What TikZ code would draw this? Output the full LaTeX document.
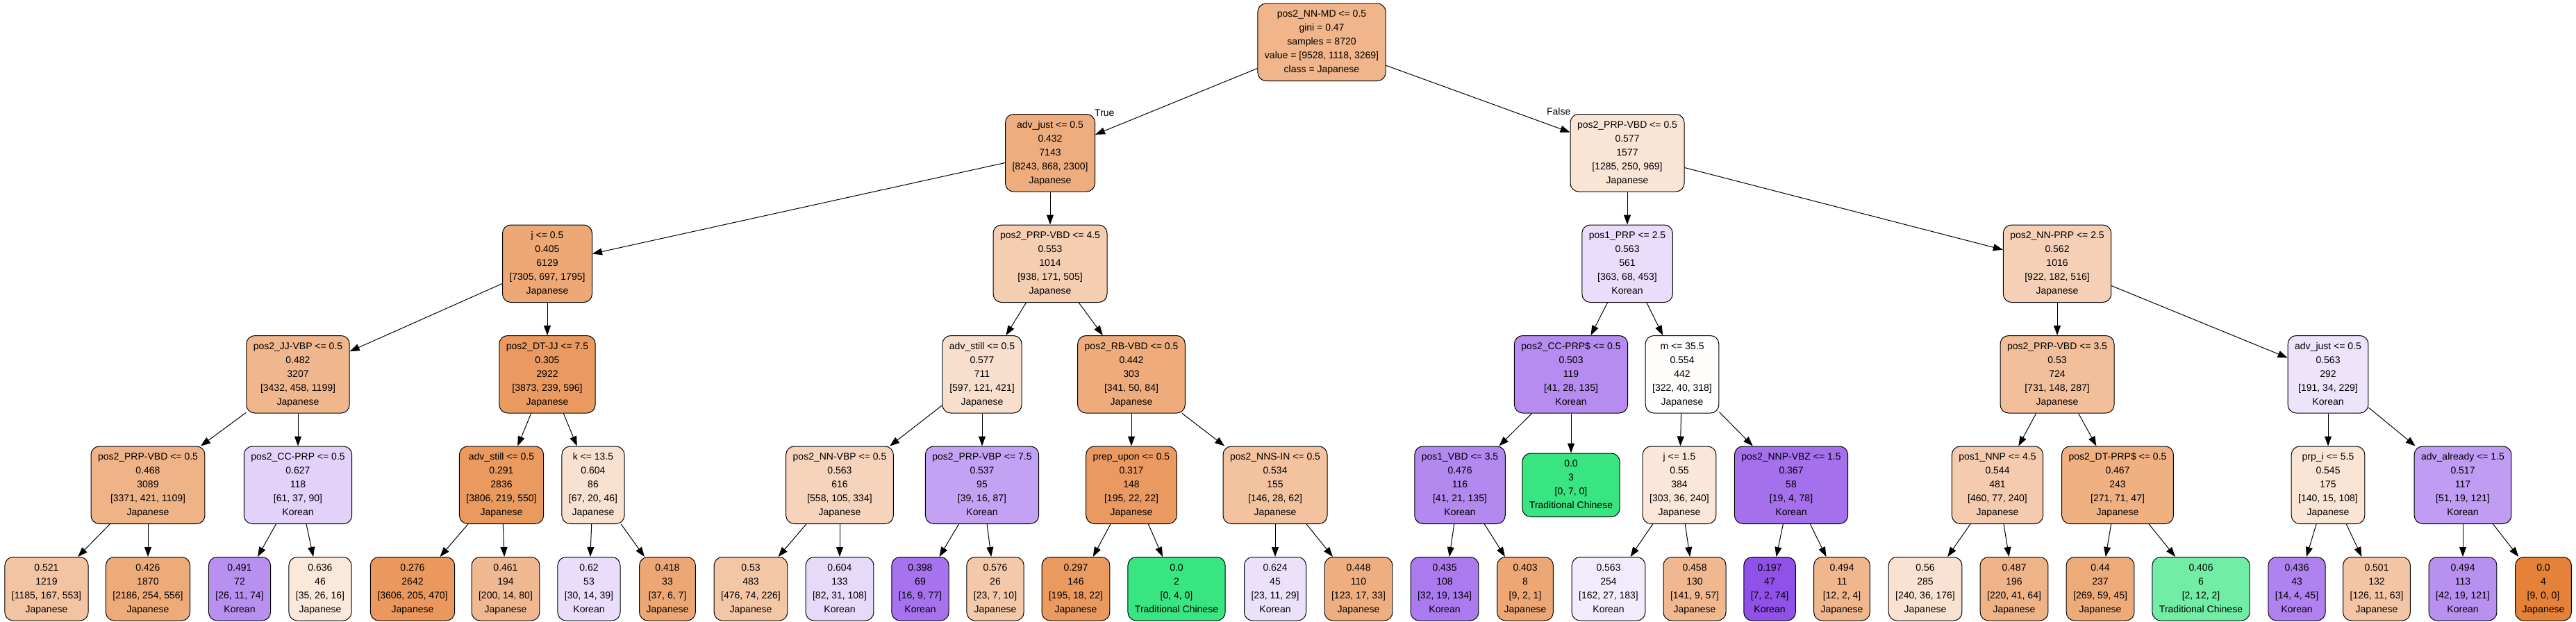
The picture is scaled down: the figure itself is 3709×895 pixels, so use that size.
\documentclass[tikz,border=0pt]{standalone}
\usepackage{fontspec}
\setmainfont{Liberation Sans}
\usepackage{tikz}
\usetikzlibrary{positioning,arrows.meta}
\definecolor{japc}{RGB}{229,129,57}
\definecolor{tradc}{RGB}{57,229,129}
\definecolor{korc}{RGB}{129,57,229}
\newcommand{\tsplit}[5]{\strut#1\\\strut#2\\\strut#3\\\strut#4\\\strut#5}
\newcommand{\tleaf}[4]{\strut#1\\\strut#2\\\strut#3\\\strut#4}
\tikzset{
  cell/.style={draw=black, line width=1pt, rounded corners=12pt, fill=white,
               inner xsep=10pt, inner ysep=5.75pt, align=center,
               font=\fontsize{14}{20}\selectfont},
  jap/.style={cell, fill=japc!#1!white},
  trad/.style={cell, fill=tradc!#1!white},
  kor/.style={cell, fill=korc!#1!white},
  ar/.style={-{Triangle[length=14pt,width=10pt]}, line width=1pt},
  lbl/.style={inner sep=0pt, font=\fontsize{14}{20}\selectfont},
}

\begin{document}
\begin{tikzpicture}
\useasboundingbox (0pt,0pt) rectangle (3709pt,-895pt);

% --- root ---
\node[jap=59] (root) at (1903pt,-60.75pt)
  {\tsplit{pos2\_NN-MD <= 0.5}{gini = 0.47}{samples = 8720}{value = [9528, 1118, 3269]}{class = Japanese}};
\node[jap=65] (L) [below=47pt of root, xshift=-391pt] {\tsplit{adv\_just <= 0.5}{0.432}{7143}{[8243, 868, 2300]}{Japanese}};
\node[jap=21] (R) [below=47pt of root, xshift=440pt]  {\tsplit{pos2\_PRP-VBD <= 0.5}{0.577}{1577}{[1285, 250, 969]}{Japanese}};
\draw[ar] (root) -- (L);
\draw[ar] (root) -- (R);
\node[lbl, anchor=base west] (true)  at ([xshift=-1pt,yshift=-3.5pt]L.north east) {True};
\node[lbl, anchor=base east] (false) at ([xshift=1pt,yshift=-1.5pt]R.north west)  {False};

% --- true branch: j ---
\node[jap=69] (LL) [below=47pt of L, xshift=-724pt] {\tsplit{j <= 0.5}{0.405}{6129}{[7305, 697, 1795]}{Japanese}};
\node[jap=57] (LLL) [below=47pt of LL, xshift=-359pt] {\tsplit{pos2\_JJ-VBP <= 0.5}{0.482}{3207}{[3432, 458, 1199]}{Japanese}};
\node[jap=80] (LLR) [below=47pt of LL] {\tsplit{pos2\_DT-JJ <= 7.5}{0.305}{2922}{[3873, 239, 596]}{Japanese}};
\node[jap=60] (LLLL) [below=47pt of LLL, xshift=-216pt] {\tsplit{pos2\_PRP-VBD <= 0.5}{0.468}{3089}{[3371, 421, 1109]}{Japanese}};
\node[kor=23] (LLLR) [below=47pt of LLL] {\tsplit{pos2\_CC-PRP <= 0.5}{0.627}{118}{[61, 37, 90]}{Korean}};
\node[jap=81] (LLRL) [below=47pt of LLR, xshift=-66pt] {\tsplit{adv\_still <= 0.5}{0.291}{2836}{[3806, 219, 550]}{Japanese}};
\node[jap=24] (LLRR) [below=47pt of LLR, xshift=66pt] {\tsplit{k <= 13.5}{0.604}{86}{[67, 20, 46]}{Japanese}};
\node[jap=47] (LLLLL) [below=47pt of LLLL, xshift=-146pt] {\tleaf{0.521}{1219}{[1185, 167, 553]}{Japanese}};
\node[jap=67] (LLLLR) [below=47pt of LLLL] {\tleaf{0.426}{1870}{[2186, 254, 556]}{Japanese}};
\node[kor=56] (LLLRL) [below=47pt of LLLR, xshift=-84pt] {\tleaf{0.491}{72}{[26, 11, 74]}{Korean}};
\node[jap=18] (LLLRR) [below=47pt of LLLR, xshift=32pt] {\tleaf{0.636}{46}{[35, 26, 16]}{Japanese}};
\node[jap=82] (LLRLL) [below=47pt of LLRL, xshift=-128pt] {\tleaf{0.276}{2642}{[3606, 205, 470]}{Japanese}};
\node[jap=56] (LLRLR) [below=47pt of LLRL, xshift=6pt] {\tleaf{0.461}{194}{[200, 14, 80]}{Japanese}};
\node[kor=17] (LLRRL) [below=47pt of LLRR, xshift=-6pt] {\tleaf{0.62}{53}{[30, 14, 39]}{Korean}};
\node[jap=70] (LLRRR) [below=47pt of LLRR, xshift=107pt] {\tleaf{0.418}{33}{[37, 6, 7]}{Japanese}};
\draw[ar] (L) -- (LL);
\draw[ar] (LL) -- (LLL);
\draw[ar] (LL) -- (LLR);
\draw[ar] (LLL) -- (LLLL);
\draw[ar] (LLL) -- (LLLR);
\draw[ar] (LLR) -- (LLRL);
\draw[ar] (LLR) -- (LLRR);
\draw[ar] (LLLL) -- (LLLLL);
\draw[ar] (LLLL) -- (LLLLR);
\draw[ar] (LLLR) -- (LLLRL);
\draw[ar] (LLLR) -- (LLLRR);
\draw[ar] (LLRL) -- (LLRLL);
\draw[ar] (LLRL) -- (LLRLR);
\draw[ar] (LLRR) -- (LLRRL);
\draw[ar] (LLRR) -- (LLRRR);

% --- true branch: pos2_PRP-VBD ---
\node[jap=39] (LR) [below=47pt of L] {\tsplit{pos2\_PRP-VBD <= 4.5}{0.553}{1014}{[938, 171, 505]}{Japanese}};
\node[jap=25] (LRL) [below=47pt of LR, xshift=-98pt] {\tsplit{adv\_still <= 0.5}{0.577}{711}{[597, 121, 421]}{Japanese}};
\node[jap=66] (LRR) [below=47pt of LR, xshift=117pt] {\tsplit{pos2\_RB-VBD <= 0.5}{0.442}{303}{[341, 50, 84]}{Japanese}};
\node[jap=34] (LRLL) [below=47pt of LRL, xshift=-205pt] {\tsplit{pos2\_NN-VBP <= 0.5}{0.563}{616}{[558, 105, 334]}{Japanese}};
\node[kor=47] (LRLR) [below=47pt of LRL] {\tsplit{pos2\_PRP-VBP <= 7.5}{0.537}{95}{[39, 16, 87]}{Korean}};
\node[jap=80] (LRRL) [below=47pt of LRR] {\tsplit{prep\_upon <= 0.5}{0.317}{148}{[195, 22, 22]}{Japanese}};
\node[jap=48] (LRRR) [below=47pt of LRR, xshift=207pt] {\tsplit{pos2\_NNS-IN <= 0.5}{0.534}{155}{[146, 28, 62]}{Japanese}};
\node[jap=45] (LRLLL) [below=47pt of LRLL, xshift=-128pt] {\tleaf{0.53}{483}{[476, 74, 226]}{Japanese}};
\node[kor=19] (LRLLR) [below=47pt of LRLL] {\tleaf{0.604}{133}{[82, 31, 108]}{Korean}};
\node[kor=71] (LRLRL) [below=47pt of LRLR, xshift=-89pt] {\tleaf{0.398}{69}{[16, 9, 77]}{Korean}};
\node[jap=43] (LRLRR) [below=47pt of LRLR, xshift=19pt] {\tleaf{0.576}{26}{[23, 7, 10]}{Japanese}};
\node[jap=81] (LRRLL) [below=47pt of LRRL, xshift=-80pt] {\tleaf{0.297}{146}{[195, 18, 22]}{Japanese}};
\node[trad=100] (LRRLR) [below=47pt of LRRL, xshift=65pt] {\tleaf{0.0}{2}{[0, 4, 0]}{Traditional Chinese}};
\node[kor=15] (LRRRL) [below=47pt of LRRR] {\tleaf{0.624}{45}{[23, 11, 29]}{Korean}};
\node[jap=64] (LRRRR) [below=47pt of LRRR, xshift=120pt] {\tleaf{0.448}{110}{[123, 17, 33]}{Japanese}};
\draw[ar] (L) -- (LR);
\draw[ar] (LR) -- (LRL);
\draw[ar] (LR) -- (LRR);
\draw[ar] (LRL) -- (LRLL);
\draw[ar] (LRL) -- (LRLR);
\draw[ar] (LRR) -- (LRRL);
\draw[ar] (LRR) -- (LRRR);
\draw[ar] (LRLL) -- (LRLLL);
\draw[ar] (LRLL) -- (LRLLR);
\draw[ar] (LRLR) -- (LRLRL);
\draw[ar] (LRLR) -- (LRLRR);
\draw[ar] (LRRL) -- (LRRLL);
\draw[ar] (LRRL) -- (LRRLR);
\draw[ar] (LRRR) -- (LRRRL);
\draw[ar] (LRRR) -- (LRRRR);

% --- false branch: pos1_PRP ---
\node[kor=17] (RL) [below=47pt of R] {\tsplit{pos1\_PRP <= 2.5}{0.563}{561}{[363, 68, 453]}{Korean}};
\node[kor=58] (RLL) [below=47pt of RL, xshift=-81pt] {\tsplit{pos2\_CC-PRP\$ <= 0.5}{0.503}{119}{[41, 28, 135]}{Korean}};
\node[jap=1] (RLR) [below=47pt of RL, xshift=79pt] {\tsplit{m <= 35.5}{0.554}{442}{[322, 40, 318]}{Japanese}};
\node[kor=60] (RLLL) [below=47pt of RLL, xshift=-160pt] {\tsplit{pos1\_VBD <= 3.5}{0.476}{116}{[41, 21, 135]}{Korean}};
\node[trad=100] (RLLR) [below=57pt of RLL] {\tleaf{0.0}{3}{[0, 7, 0]}{Traditional Chinese}};
\node[jap=19] (RLRL) [below=47pt of RLR, xshift=-4pt] {\tsplit{j <= 1.5}{0.55}{384}{[303, 36, 240]}{Japanese}};
\node[kor=72] (RLRR) [below=47pt of RLR, xshift=157pt] {\tsplit{pos2\_NNP-VBZ <= 1.5}{0.367}{58}{[19, 4, 78]}{Korean}};
\node[kor=67] (RLLLL) [below=47pt of RLLL, xshift=-22pt] {\tleaf{0.435}{108}{[32, 19, 134]}{Korean}};
\node[jap=70] (RLLLR) [below=47pt of RLLL, xshift=94pt] {\tleaf{0.403}{8}{[9, 2, 1]}{Japanese}};
\node[kor=10] (RLRLL) [below=47pt of RLRL, xshift=-102pt] {\tleaf{0.563}{254}{[162, 27, 183]}{Korean}};
\node[jap=56] (RLRLR) [below=47pt of RLRL, xshift=22pt] {\tleaf{0.458}{130}{[141, 9, 57]}{Japanese}};
\node[kor=88] (RLRRL) [below=47pt of RLRR, xshift=-31pt] {\tleaf{0.197}{47}{[7, 2, 74]}{Korean}};
\node[jap=57] (RLRRR) [below=47pt of RLRR, xshift=73pt] {\tleaf{0.494}{11}{[12, 2, 4]}{Japanese}};
\draw[ar] (R) -- (RL);
\draw[ar] (RL) -- (RLL);
\draw[ar] (RL) -- (RLR);
\draw[ar] (RLL) -- (RLLL);
\draw[ar] (RLL) -- (RLLR);
\draw[ar] (RLR) -- (RLRL);
\draw[ar] (RLR) -- (RLRR);
\draw[ar] (RLLL) -- (RLLLL);
\draw[ar] (RLLL) -- (RLLLR);
\draw[ar] (RLRL) -- (RLRLL);
\draw[ar] (RLRL) -- (RLRLR);
\draw[ar] (RLRR) -- (RLRRL);
\draw[ar] (RLRR) -- (RLRRR);

% --- false branch: pos2_NN-PRP ---
\node[jap=37] (RR) [below=47pt of R, xshift=619pt] {\tsplit{pos2\_NN-PRP <= 2.5}{0.562}{1016}{[922, 182, 516]}{Japanese}};
\node[jap=51] (RRL) [below=47pt of RR] {\tsplit{pos2\_PRP-VBD <= 3.5}{0.53}{724}{[731, 148, 287]}{Japanese}};
\node[kor=14] (RRR) [below=47pt of RR, xshift=390pt] {\tsplit{adv\_just <= 0.5}{0.563}{292}{[191, 34, 229]}{Korean}};
\node[jap=41] (RRLL) [below=47pt of RRL, xshift=-86pt] {\tsplit{pos1\_NNP <= 4.5}{0.544}{481}{[460, 77, 240]}{Japanese}};
\node[jap=63] (RRLR) [below=47pt of RRL, xshift=87pt] {\tsplit{pos2\_DT-PRP\$ <= 0.5}{0.467}{243}{[271, 71, 47]}{Japanese}};
\node[jap=21] (RRRL) [below=47pt of RRR] {\tsplit{prp\_i <= 5.5}{0.545}{175}{[140, 15, 108]}{Japanese}};
\node[kor=50] (RRRR) [below=47pt of RRR, xshift=194pt] {\tsplit{adv\_already <= 1.5}{0.517}{117}{[51, 19, 121]}{Korean}};
\node[jap=23] (RRLLL) [below=47pt of RRLL, xshift=-104pt] {\tleaf{0.56}{285}{[240, 36, 176]}{Japanese}};
\node[jap=60] (RRLLR) [below=47pt of RRLL, xshift=24pt] {\tleaf{0.487}{196}{[220, 41, 64]}{Japanese}};
\node[jap=67] (RRLRL) [below=47pt of RRLR, xshift=-25pt] {\tleaf{0.44}{237}{[269, 59, 45]}{Japanese}};
\node[trad=71] (RRLRR) [below=47pt of RRLR, xshift=120pt] {\tleaf{0.406}{6}{[2, 12, 2]}{Traditional Chinese}};
\node[kor=63] (RRRLL) [below=47pt of RRRL, xshift=-45pt] {\tleaf{0.436}{43}{[14, 4, 45]}{Korean}};
\node[jap=46] (RRRLR) [below=47pt of RRRL, xshift=70pt] {\tleaf{0.501}{132}{[126, 11, 63]}{Japanese}};
\node[kor=56] (RRRRL) [below=47pt of RRRR] {\tleaf{0.494}{113}{[42, 19, 121]}{Korean}};
\node[jap=100] (RRRRR) [below=47pt of RRRR, xshift=116pt] {\tleaf{0.0}{4}{[9, 0, 0]}{Japanese}};
\draw[ar] (R) -- (RR);
\draw[ar] (RR) -- (RRL);
\draw[ar] (RR) -- (RRR);
\draw[ar] (RRL) -- (RRLL);
\draw[ar] (RRL) -- (RRLR);
\draw[ar] (RRR) -- (RRRL);
\draw[ar] (RRR) -- (RRRR);
\draw[ar] (RRLL) -- (RRLLL);
\draw[ar] (RRLL) -- (RRLLR);
\draw[ar] (RRLR) -- (RRLRL);
\draw[ar] (RRLR) -- (RRLRR);
\draw[ar] (RRRL) -- (RRRLL);
\draw[ar] (RRRL) -- (RRRLR);
\draw[ar] (RRRR) -- (RRRRL);
\draw[ar] (RRRR) -- (RRRRR);

\end{tikzpicture}
\end{document}
